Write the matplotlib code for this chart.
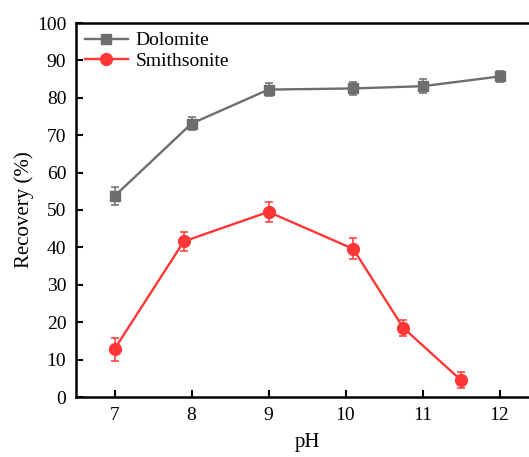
import numpy as np
import matplotlib
matplotlib.use('Agg')
import matplotlib.pyplot as plt

plt.rcParams['font.family'] = ['Liberation Serif', 'DejaVu Serif']

# data
ph_dol = [7, 8, 9, 10.1, 11, 12]
rec_dol = [53.7, 73.1, 82.2, 82.5, 83.1, 85.7]
err_dol = [2.4, 1.8, 1.7, 1.7, 1.8, 1.4]

ph_smi = [7, 7.9, 9, 10.1, 10.75, 11.5]
rec_smi = [12.8, 41.6, 49.5, 39.6, 18.5, 4.5]
err_smi = [3.1, 2.5, 2.7, 2.8, 2.2, 2.2]

xticks = [7, 8, 9, 10, 11, 12]
yticks = np.arange(0, 101, 10)

W, H = 529, 457
fig = plt.figure(figsize=(W/100, H/100), dpi=100)
ax = fig.add_axes([76/W, (H-397)/H, (538-76)/W, (397-23)/H])

gray = '#6e6e6e'
red = '#ff3636'

ax.errorbar(ph_dol, rec_dol, yerr=err_dol, fmt='none', ecolor=gray,
            capsize=3, elinewidth=1.1, capthick=1.1)
ax.plot(ph_dol, rec_dol, color=gray, marker='s', ms=7.5, lw=1.7, label='Dolomite')
ax.errorbar(ph_smi, rec_smi, yerr=err_smi, fmt='none', ecolor=red,
            capsize=3, elinewidth=1.1, capthick=1.1)
ax.plot(ph_smi, rec_smi, color=red, marker='o', ms=8.5, lw=1.7, label='Smithsonite')

ax.set_xlim(6.5, 12.5)
ax.set_ylim(0, 100)
ax.set_xticks(xticks)
ax.set_yticks(yticks)
ax.tick_params(direction='in', length=5, width=1.5, labelsize=14, pad=7)
for s in ax.spines.values():
    s.set_linewidth(1.8)
ax.spines['right'].set_visible(False)

ax.set_xlabel('pH', fontsize=15, labelpad=7)
ax.set_ylabel('Recovery (%)', fontsize=15, labelpad=2)

leg = ax.legend(loc='upper left', frameon=False, fontsize=14,
                handlelength=2.2, handletextpad=0.4, labelspacing=0.15,
                borderaxespad=0.05)

fig.savefig('out.png', dpi=100)
